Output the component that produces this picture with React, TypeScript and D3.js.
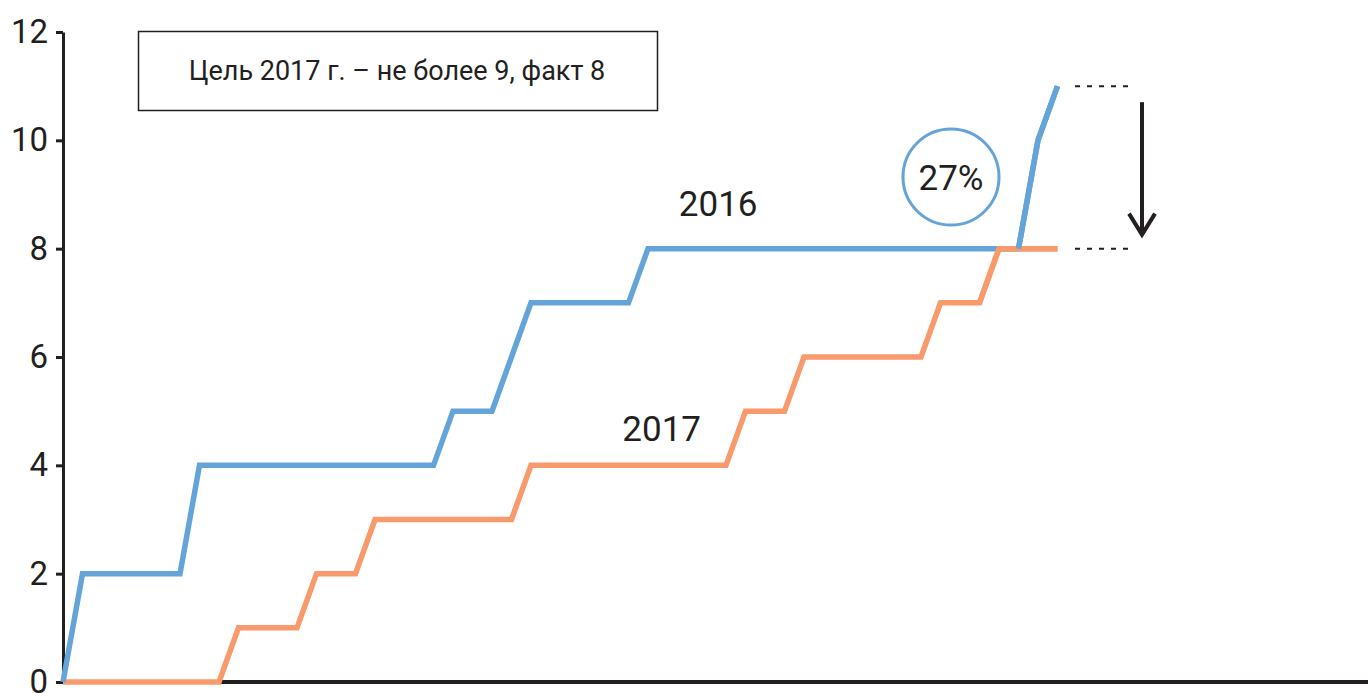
import * as d3 from "d3";
import { useRef, useEffect } from "react";

// weekly cumulative counts, weeks 0..51
const weeks = d3.range(0, 52);
const values2016 = [
  0, 2, 2, 2, 2, 2, 2, 4, 4, 4, 4, 4, 4, 4, 4, 4, 4, 4, 4, 4,
  5, 5, 5, 6, 7, 7, 7, 7, 7, 7, 8, 8, 8, 8, 8, 8, 8, 8, 8, 8,
  8, 8, 8, 8, 8, 8, 8, 8, 8, 8, 10, 11,
];
const values2017 = [
  0, 0, 0, 0, 0, 0, 0, 0, 0, 1, 1, 1, 1, 2, 2, 2, 3, 3, 3, 3,
  3, 3, 3, 3, 4, 4, 4, 4, 4, 4, 4, 4, 4, 4, 4, 5, 5, 5, 6, 6,
  6, 6, 6, 6, 6, 7, 7, 7, 8, 8, 8, 8,
];
const yTicks = [0, 2, 4, 6, 8, 10, 12];
const goalText = "Цель 2017 г. – не более 9, факт 8";
const reductionText = "27%";

const W = 1368;
const H = 693;
const margin = { top: 32, bottom: 11, left: 63 };
const blue = "#64a4d9";
const orange = "#f89a6c";
const ink = "#231f20";

const App = () => {
  const chartRef = useRef(null);

  useEffect(() => {
    const svg = d3.select(chartRef.current);
    svg.selectAll("*").remove();

    const x = d3.scaleLinear().domain([0, 51]).range([margin.left, margin.left + 51 * 19.5]);
    const y = d3.scaleLinear().domain([0, 12]).range([H - margin.bottom, margin.top]);

    // y axis
    const yAxis = d3.axisLeft(y).tickValues(yTicks).tickSize(7).tickSizeOuter(0).tickPadding(8);
    const gy = svg.append("g")
      .attr("transform", `translate(${margin.left},0)`)
      .call(yAxis);
    gy.select(".domain").attr("stroke", ink).attr("stroke-width", 3);
    gy.selectAll(".tick line").attr("stroke", ink).attr("stroke-width", 3);
    gy.selectAll(".tick text")
      .attr("fill", ink)
      .style("font-family", "Roboto")
      .style("font-size", "33px");

    // x axis baseline, no ticks
    svg.append("line")
      .attr("x1", margin.left - 1.5).attr("x2", W)
      .attr("y1", y(0)).attr("y2", y(0))
      .attr("stroke", ink).attr("stroke-width", 4);

    const line = d3.line().x((d, i) => x(weeks[i])).y(d => y(d)).curve(d3.curveLinear);

    svg.append("path").datum(values2017)
      .attr("d", line).attr("fill", "none")
      .attr("stroke", orange).attr("stroke-width", 5.5).attr("stroke-linejoin", "miter");
    svg.append("path").datum(values2016)
      .attr("d", line).attr("fill", "none")
      .attr("stroke", blue).attr("stroke-width", 5.5).attr("stroke-linejoin", "miter");

    // the 2017 line is drawn on top where it reaches 8
    svg.append("path").datum(values2017.slice(47))
      .attr("d", d3.line().x((d, i) => x(weeks[47 + i])).y(d => y(d)))
      .attr("fill", "none").attr("stroke", orange).attr("stroke-width", 5.5);
    svg.append("path").datum(values2016.slice(49))
      .attr("d", d3.line().x((d, i) => x(weeks[49 + i])).y(d => y(d)))
      .attr("fill", "none").attr("stroke", blue).attr("stroke-width", 5.5);

    // series labels
    svg.append("text").text("2016")
      .attr("x", x(33.6)).attr("y", y(8) - 33)
      .attr("text-anchor", "middle").attr("fill", ink)
      .style("font-family", "Roboto").style("font-size", "35px");
    svg.append("text").text("2017")
      .attr("x", x(30.7)).attr("y", y(4) - 24)
      .attr("text-anchor", "middle").attr("fill", ink)
      .style("font-family", "Roboto").style("font-size", "35px");

    // goal box
    svg.append("rect")
      .attr("x", 138.5).attr("y", 31.5).attr("width", 519).attr("height", 79)
      .attr("fill", "none").attr("stroke", ink).attr("stroke-width", 1.5);
    svg.append("text").text(goalText)
      .attr("x", 397).attr("y", 71)
      .attr("text-anchor", "middle").attr("dominant-baseline", "central")
      .attr("fill", ink)
      .style("font-family", "Roboto").style("font-size", "27px");

    // reduction circle
    svg.append("circle")
      .attr("cx", 951).attr("cy", 177).attr("r", 48)
      .attr("fill", "none").attr("stroke", blue).attr("stroke-width", 3);
    svg.append("text").text(reductionText)
      .attr("x", 951).attr("y", 178)
      .attr("text-anchor", "middle").attr("dominant-baseline", "central")
      .attr("fill", ink)
      .style("font-family", "Roboto").style("font-size", "35px");

    // dotted reference lines at 11 and 8
    [11, 8].forEach(v => {
      svg.append("line")
        .attr("x1", 1075).attr("x2", 1130)
        .attr("y1", y(v)).attr("y2", y(v))
        .attr("stroke", ink).attr("stroke-width", 2)
        .attr("stroke-dasharray", "5,7");
    });

    // down arrow
    svg.append("line")
      .attr("x1", 1142).attr("x2", 1142)
      .attr("y1", y(11) + 16).attr("y2", y(8) - 14)
      .attr("stroke", ink).attr("stroke-width", 4);
    svg.append("path")
      .attr("d", `M1129,${y(8) - 35} L1142,${y(8) - 14} L1155,${y(8) - 35}`)
      .attr("fill", "none").attr("stroke", ink).attr("stroke-width", 4);
  }, []);

  return (
    <svg ref={chartRef} width={W} height={H}
      style={{ position: "absolute", left: 0, top: 0, background: "#fff" }}></svg>
  );
};

export default App;
